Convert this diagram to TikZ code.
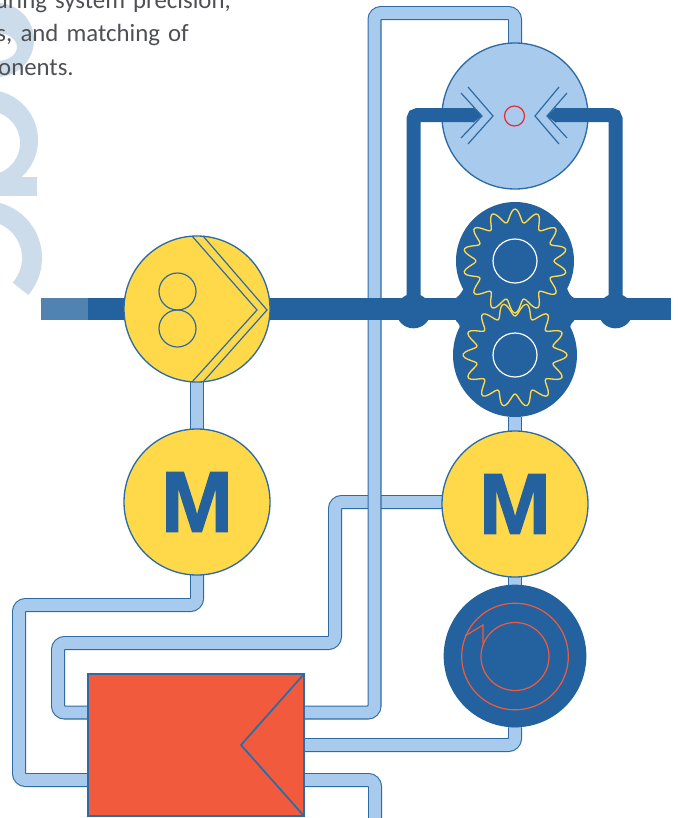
\documentclass[tikz,border=0pt]{standalone}
\usepackage{fontspec}
\setmainfont{Carlito}[WordSpace=1.45]
\newfontfamily\motorfont{Liberation Sans Bold}[FakeBold=1.5]
\usetikzlibrary{
    backgrounds
}
\definecolor{darkblue}{RGB}{35,98,158}
\definecolor{fadedblue}{RGB}{80,131,176}
\definecolor{lightblue}{RGB}{168,202,236}
\definecolor{edgeblue}{RGB}{45,107,165}
\definecolor{ghostblue}{RGB}{205,220,235}
\definecolor{sunyellow}{RGB}{255,217,74}
\definecolor{boxred}{RGB}{241,90,60}
\definecolor{seatred}{RGB}{230,45,55}
\definecolor{bodygrey}{RGB}{78,80,84}
\tikzset{
    unit/.style={circle,draw=edgeblue,line width=1pt,inner sep=0pt,outer sep=0pt,minimum size=109.5pt},
    motor/.style={unit,fill=sunyellow,text=darkblue,font=\motorfont\fontsize{65}{65}\selectfont},
    housing/.style={circle,fill=darkblue,inner sep=0pt,outer sep=0pt},
    hole/.style={circle,inner sep=0pt,outer sep=0pt,minimum size=33pt},
    joint/.style={circle,fill=darkblue,inner sep=0pt,outer sep=0pt,minimum size=26pt},
    pipe/.style={draw=edgeblue,line width=0.8pt,double=lightblue,double distance=8.9pt,rounded corners=5pt},
    branch/.style={draw=darkblue,line width=10.5pt,rounded corners=3pt},
    blueline/.style={draw=edgeblue,line width=0.9pt},
    bodytext/.style={anchor=base east,inner sep=0pt,text=bodygrey,font=\fontsize{18.6}{20}\selectfont}
}
\begin{document}
\begin{tikzpicture}[x=0.75pt,y=-0.75pt]

\useasboundingbox (0,0) rectangle (680,818);

\node[bodytext] (lineA) at (231,8) {uring system precision,};
\node[bodytext] (lineB) at (189,41) {s, and matching of};
\node[bodytext] (lineC) at (74,75) {onents.};

\node[unit,fill=lightblue] (valve) at (515,116) {};
\node[unit,fill=sunyellow] (pump) at (197,309) {};
\node[motor] (motorA) at (197,502) {M};
\node[motor] (motorB) at (515,504) {M};
\node[housing,minimum size=88.5pt] (gearTop) at (515,261) {};
\node[housing,minimum size=93pt] (gearBot) at (515,355) {};
\node[housing,minimum size=107pt] (drum) at (515,656) {};
\node[rectangle,draw=edgeblue,fill=boxred,line width=1.1pt,inner sep=0pt,outer sep=0pt,minimum width=162pt,minimum height=106.5pt] (boxA) at (196,745) {};

\fill[darkblue] (465,285) .. controls (463,291) and (460,295) .. (456,298) -- (456,321) .. controls (459,323) and (460,326) .. (461,332) -- (569,332) .. controls (570,326) and (571,323) .. (574,321) -- (574,298) .. controls (570,296) and (568,292) .. (566,285) -- cycle;

\begin{scope}[on background layer]
\fill[ghostblue,even odd rule] (-3,40) circle (27.75pt) (-3,47) ellipse (15pt and 10.5pt);
\fill[ghostblue,even odd rule] (-12,140) circle (37.5pt) (-12,143) circle (24pt);
\fill[ghostblue] (-5,177) rectangle (37,196);
\draw[ghostblue,line width=15pt] (20.5,288.8) arc[start angle=-41,end angle=110,radius=35.25pt];

\draw[pipe] ([yshift=1.5pt]motorB.west) -- (335,502) -- (335,643) -- (58,643) -- (58,712.5) -- ([yshift=-28.9pt]boxA.north west);
\draw[pipe] ([yshift=-28.9pt]boxA.north east) -- (374.5,712.5) -- (374.5,13) -- (515,13) -- (valve.north);
\draw[pipe] (motorA.south) -- (197,605) -- (19,605) -- (19,780) -- ([yshift=-79.5pt]boxA.north west);
\draw[pipe] (boxA.east) -- (515,745) -- (drum.south);
\draw[pipe] ([yshift=-79.5pt]boxA.north east) -- (375,780) -- (375,830);
\draw[pipe] (pump.south) -- (motorA.north);
\draw[pipe] (gearBot.south) -- (motorB.north);
\draw[pipe] (motorB.south) -- (drum.north);

\coordinate (barStart) at (41,309);
\coordinate (barEnd) at (671,309);
\draw[fadedblue,line width=16.5pt] (barStart) -- (88,309);
\draw[darkblue,line width=16.5pt] (88,309) -- (barEnd);
\end{scope}

\draw[blueline] (203,236) -- (267,310) -- (203,382);
\draw[blueline] (192,236) -- (257,310) -- (192,382);
\node[hole,minimum size=27.75pt,draw=edgeblue,line width=0.9pt] (rollA) at (177.5,291.5) {};
\node[hole,minimum size=27.75pt,draw=edgeblue,line width=0.9pt] (rollB) at (177.5,328.5) {};

\draw[edgeblue,line width=1.3pt] (boxA.north east) -- (241,745) -- (boxA.south east);

\node[joint] (jointL) at (413.5,311) {};
\node[joint] (jointR) at (615.5,311) {};

\coordinate (tipL) at (482,116);
\coordinate (tipR) at (547,116);
\draw[branch] (jointL.center) -- (413.5,115) -- (474,115);
\draw[branch] (jointR.center) -- (615.5,115) -- (555,115);
\fill[darkblue] (473,107.2) -- (tipL) -- (473,122.8) -- cycle;
\fill[darkblue] (556,107.2) -- (tipR) -- (556,122.8) -- cycle;

\draw[blueline] (468,87) -- (493,116) -- (468,144);
\draw[blueline] (461,93) -- (482,116) -- (461,138);
\draw[blueline] (559,87) -- (535,116) -- (559,144);
\draw[blueline] (567,93) -- (547,116) -- (567,138);
\node[hole,minimum size=15pt,draw=seatred,line width=0.9pt] (seat) at (514.5,116) {};

\draw[sunyellow,line width=1pt,shift={(gearTop.center)}] plot[smooth cycle,samples=169,domain=0:358,variable=\t] (\t:{45.5+6.5*cos(14*(\t-90))});
\draw[sunyellow,line width=1pt,shift={(gearBot.center)}] plot[smooth cycle,samples=169,domain=0:358,variable=\t] (\t:{45.5+6.5*cos(14*\t)});
\node[hole,draw=white,line width=0.9pt] (boreA) at (gearTop) {};
\node[hole,draw=white,line width=0.9pt] (boreB) at (gearBot) {};

\node[hole,minimum size=80pt,draw=boxred,line width=0.9pt] (ringA) at (515,656.5) {};
\node[hole,minimum size=51pt,draw=boxred,line width=0.9pt] (ringB) at (515,656.5) {};
\draw[boxred,line width=0.9pt] (465,636) -- (483,625) -- (483,643);

\end{tikzpicture}
\end{document}
